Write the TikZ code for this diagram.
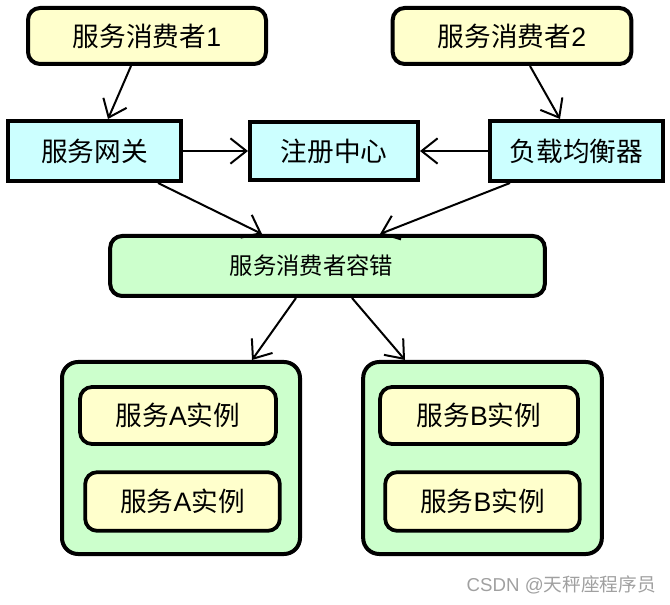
\documentclass[tikz,border=0pt]{standalone}
\usepackage{fontspec}
\setmainfont{Liberation Sans}
\newfontfamily\cjk{Noto Sans CJK SC}
\usetikzlibrary{arrows.meta,calc}
\definecolor{boxyellow}{RGB}{255,255,204}
\definecolor{boxcyan}{RGB}{204,255,255}
\definecolor{boxgreen}{RGB}{204,255,204}
\definecolor{wmgray}{RGB}{160,160,160}
\tikzset{
  base/.style={draw=black, line width=3pt, font=\fontsize{20pt}{24pt}\selectfont, inner sep=0pt, align=center},
  consumerbox/.style={base, fill=boxyellow, rounded corners=9pt},
  squarebox/.style={base, fill=boxcyan},
  greenbox/.style={base, fill=boxgreen, rounded corners=9pt},
  containerbox/.style={base, fill=boxgreen, rounded corners=12pt},
  instbox/.style={base, fill=boxyellow, rounded corners=9pt, line width=2.8pt},
  conn/.style={line width=1.5pt, -{Straight Barb[length=12pt, width=19pt, line width=1.5pt]}},
}
\begin{document}
\begin{tikzpicture}[x=0.75pt, y=-0.75pt]
\useasboundingbox (0,0) rectangle (670,605);
\node[consumerbox, minimum width=178.5pt, minimum height=42pt] (c1) at (147,36) {{\cjk 服务消费者}1};
\node[consumerbox, minimum width=179pt, minimum height=42pt] (c2) at (512,36) {{\cjk 服务消费者}2};
\node[squarebox, minimum width=129.75pt, minimum height=45pt] (gw) at (94.5,151) {\cjk 服务网关};
\node[squarebox, minimum width=126pt, minimum height=43.5pt] (reg) at (334,151) {\cjk 注册中心};
\node[squarebox, minimum width=129.75pt, minimum height=45pt] (lb) at (576.5,151) {\cjk 负载均衡器};
\node[greenbox, minimum width=326pt, minimum height=45pt, font=\fontsize{17.5pt}{21pt}\selectfont] (ft) at (327.5,266) {\hspace*{-24pt}\cjk 服务消费者容错};
\node[containerbox, minimum width=178.5pt, minimum height=144pt] (ca) at (181,458) {};
\node[containerbox, minimum width=179pt, minimum height=144pt] (cb) at (482.5,458) {};
\node[instbox, minimum width=147pt, minimum height=42.75pt] (a1) at (178,415.5) {{\cjk 服务}A{\cjk 实例}};
\node[instbox, minimum width=146pt, minimum height=44pt] (a2) at (182.5,501.5) {{\cjk 服务}A{\cjk 实例}};
\node[instbox, minimum width=148.5pt, minimum height=42.75pt] (b1) at (479,415.5) {{\cjk 服务}B{\cjk 实例}};
\node[instbox, minimum width=146pt, minimum height=44pt] (b2) at (482.5,501.5) {{\cjk 服务}B{\cjk 实例}};
\draw[conn] ($(c1.south)+(-16,0)$) -- ($(gw.north)+(13.5,0)$);
\draw[conn] ($(c2.south)+(18,0)$) -- ($(lb.north)+(-16.5,0)$);
\draw[conn] (gw.east) -- (reg.west);
\draw[conn] (lb.west) -- (reg.east);
\draw[conn] ($(gw.south)+(63.5,0)$) -- ($(ft.north)+(-65.5,0)$);
\draw[conn] ($(lb.south)+(-66.5,0)$) -- ($(ft.north)+(52.5,0)$);
\draw[conn] ($(ft.south)+(-31.5,0)$) -- ($(ca.north)+(71,0)$);
\draw[conn] ($(ft.south)+(24.5,0)$) -- ($(cb.north)+(-77.5,0)$);
\node[text=wmgray, font=\fontsize{14pt}{16pt}\selectfont, anchor=east, inner sep=0pt] (wm) at (656,585) {CSDN @{\cjk 天秤座程序员}};
\end{tikzpicture}
\end{document}
